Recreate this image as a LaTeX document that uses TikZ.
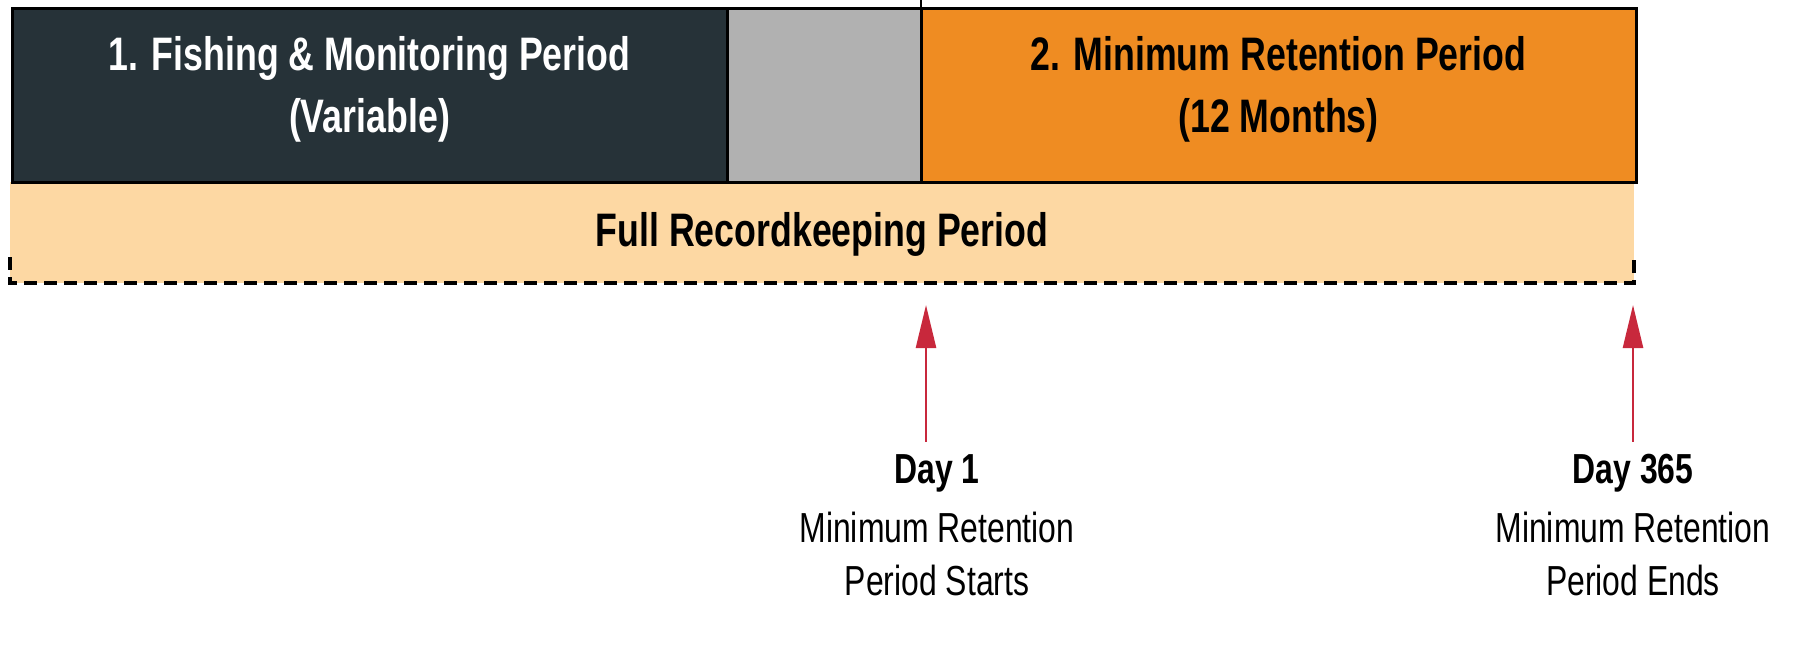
\documentclass[tikz,border=0pt]{standalone}
\usepackage{fontspec}
\setmainfont{Liberation Sans}[FakeStretch=0.76]
\usetikzlibrary{arrows.meta}
\definecolor{slate}{HTML}{263238}
\definecolor{pausegray}{HTML}{B1B1B1}
\definecolor{retorange}{HTML}{EF8C22}
\definecolor{peach}{HTML}{FDD8A3}
\definecolor{markred}{HTML}{C8283C}
\newcommand{\stacklines}[1]{\begin{tabular}[t]{@{}c@{}}#1\end{tabular}}
\begin{document}
\begin{tikzpicture}[x=1pt,y=-1pt,
  periodbox/.style={draw=black, line width=3pt, inner sep=0pt, outer sep=0pt, anchor=north west},
  titletext/.style={anchor=base, inner sep=0pt, font=\bfseries\fontsize{47}{62}\selectfont},
  bandtext/.style={anchor=base, inner sep=0pt, font=\bfseries\fontsize{47}{52}\selectfont},
  daytext/.style={anchor=base, inner sep=0pt, font=\fontsize{42}{53}\selectfont},
  marker/.style={draw=markred, line width=2.5pt, -{Triangle[width=20pt,length=43pt]}},
  bandedge/.style={line width=3.5pt, dash pattern=on 13pt off 7pt}
]
\useasboundingbox (0,0) rectangle (1794,651);

% recordkeeping band behind the period boxes
\node[fill=peach, inner sep=0pt, outer sep=0pt, anchor=north west,
      minimum width=1624pt, minimum height=101pt] (band) at (10,182) {};
\draw[bandedge] ([yshift=26pt]band.south west) -- (band.south west)
  -- (band.south east) -- ([yshift=26pt]band.south east);

% period boxes
\node[periodbox, fill=slate, minimum width=715pt, minimum height=174pt] (fish) at (12,8) {};
\node[periodbox, fill=pausegray, minimum width=194pt, minimum height=174pt] (gap) at (727,8) {};
\node[periodbox, fill=retorange, minimum width=715pt, minimum height=174pt] (keep) at (921,8) {};

% tick above the start of the retention period
\coordinate (tick) at (921,0);
\draw[line width=2pt] (tick) -- (gap.north east);

% labels
\node[titletext, text=white] (fishlabel) at (369.5,70)
  {\stacklines{1. Fishing \& Monitoring Period\\(Variable)}};
\node[titletext, text=black] (keeplabel) at (1278.5,70)
  {\stacklines{2. Minimum Retention Period\\(12 Months)}};
\node[bandtext] (bandlabel) at (822,246) {Full Recordkeeping Period};

% day markers
\node[daytext] (day1) at (937,483)
  {\stacklines{\textbf{Day 1}\\[6pt]Minimum Retention\\Period Starts}};
\node[daytext] (day365) at (1633,483)
  {\stacklines{\textbf{Day 365}\\[6pt]Minimum Retention\\Period Ends}};

\coordinate (tip1) at (926,305);
\coordinate (tip2) at (1633,305);
\draw[marker] ([yshift=4pt]day1.north -| tip1) -- (tip1);
\draw[marker] ([yshift=4pt]day365.north -| tip2) -- (tip2);
\end{tikzpicture}
\end{document}
